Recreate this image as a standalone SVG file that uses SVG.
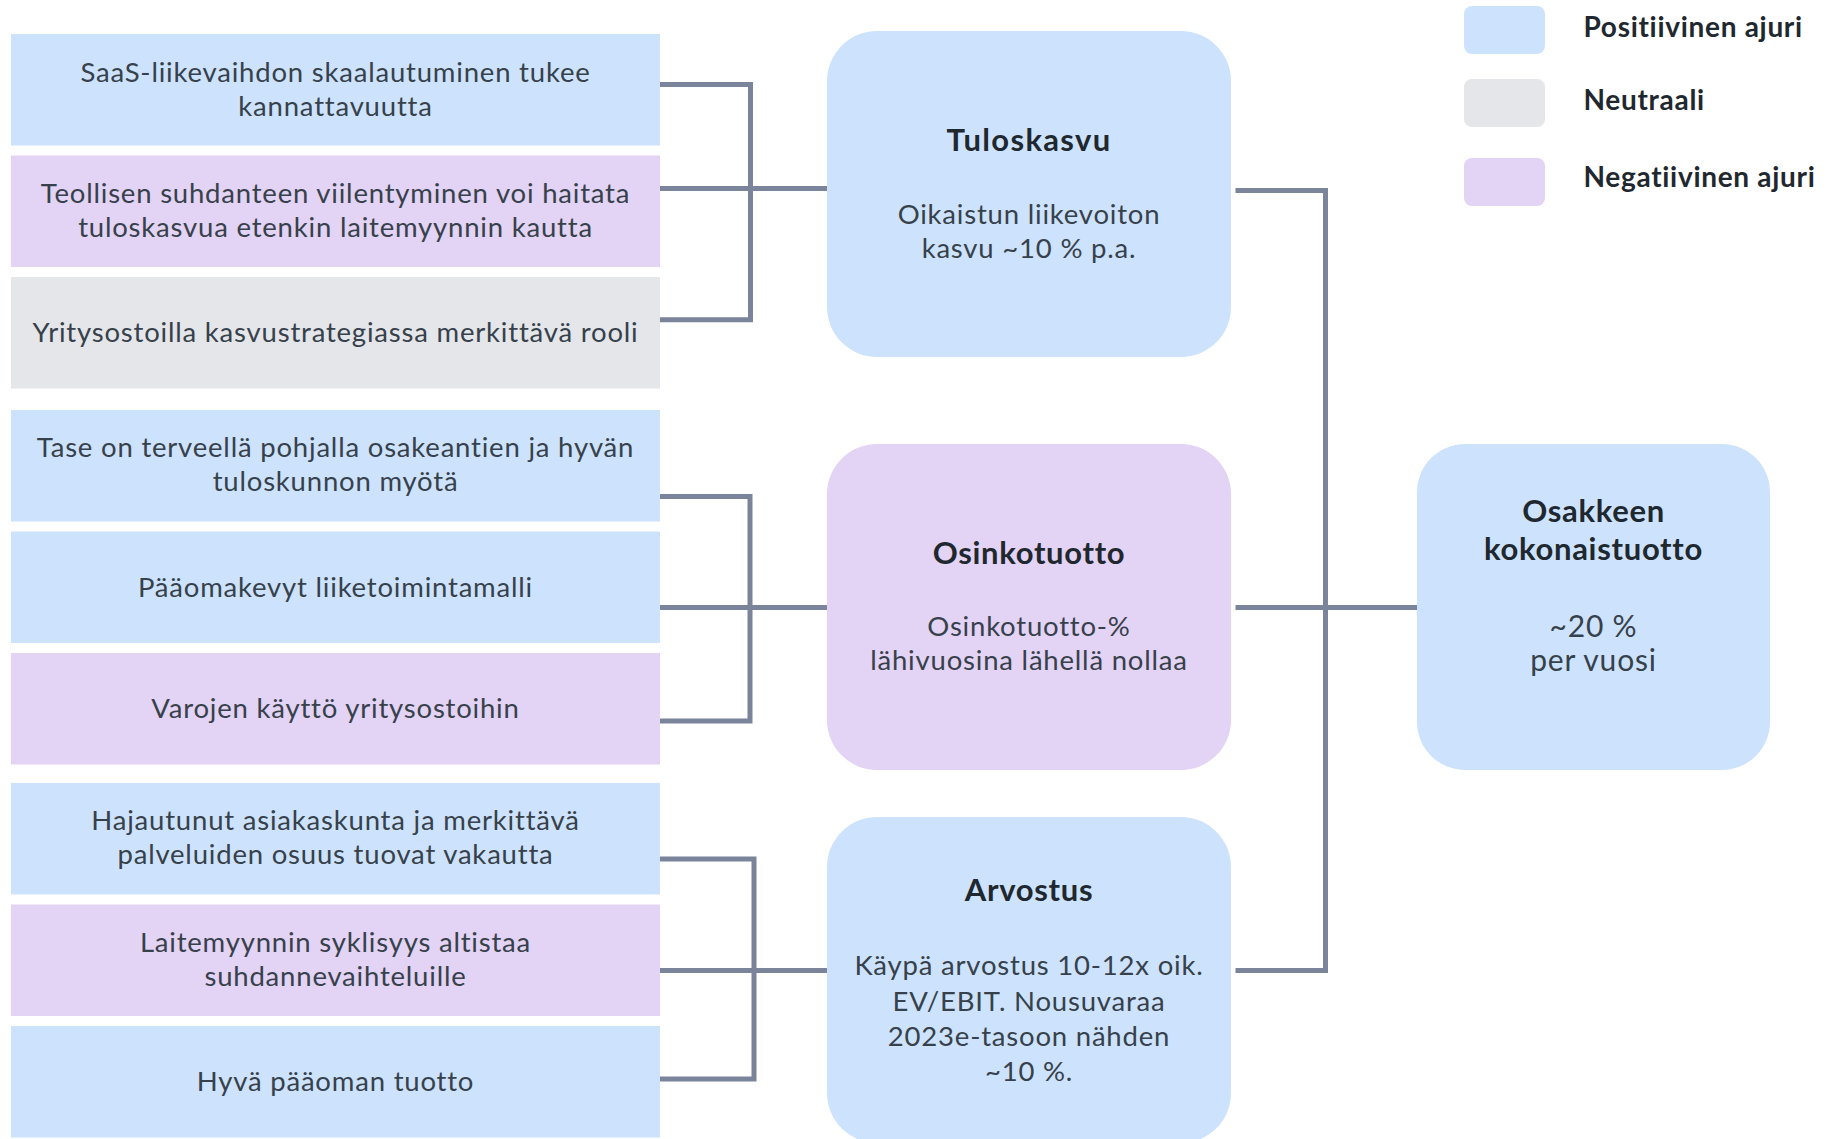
<svg xmlns="http://www.w3.org/2000/svg" width="1838" height="1139" viewBox="0 0 1838 1139">
  <style>
    .pos { fill: #cde3fd; }
    .neg { fill: #e3d3f4; }
    .neu { fill: #e4e6ea; }
    .t { font-family: Lato, "Open Sans", sans-serif; font-size: 27.5px; letter-spacing: 0.8px; fill: #37414b; text-anchor: middle; }
    .big { font-size: 30px; }
    .h { font-family: Lato, "Open Sans", sans-serif; font-size: 31px; letter-spacing: 0.7px; font-weight: 700; fill: #1f282f; text-anchor: middle; }
    .wide { letter-spacing: 1.3px; }
    .lg { font-family: Lato, "Open Sans", sans-serif; font-size: 28px; letter-spacing: 0.7px; font-weight: 700; fill: #1f282f; }
    .wire { fill: none; stroke: #7a849a; stroke-width: 5; stroke-linejoin: miter; stroke-linecap: square; }
  </style>
  <rect width="1838" height="1139" fill="#ffffff"/>

  <!-- connectors -->
  <g id="connectors">
    <path class="wire" d="M662,84.5 H750.5 V319.7 H662"/>
    <path class="wire" d="M662,188.5 H825"/>
    <path class="wire" d="M662,496.5 H750 V721 H662"/>
    <path class="wire" d="M662,607.5 H825"/>
    <path class="wire" d="M662,859 H754 V1079 H662"/>
    <path class="wire" d="M662,970.5 H825"/>
    <path class="wire" d="M1238,190.5 H1325.5 V970.5 H1238"/>
    <path class="wire" d="M1238,607.5 H1415"/>
  </g>

  <!-- drivers: earnings growth -->
  <g id="driver-saas">
    <rect class="pos" x="11" y="34" width="649" height="111.5"/>
    <text class="t" x="335.5" y="81.5">SaaS-liikevaihdon skaalautuminen tukee</text>
    <text class="t" x="335.5" y="115.5">kannattavuutta</text>
  </g>
  <g id="driver-suhdanne">
    <rect class="neg" x="11" y="155.5" width="649" height="111.5"/>
    <text class="t" x="335.5" y="203">Teollisen suhdanteen viilentyminen voi haitata</text>
    <text class="t" x="335.5" y="237">tuloskasvua etenkin laitemyynnin kautta</text>
  </g>
  <g id="driver-yritysostot">
    <rect class="neu" x="11" y="277" width="649" height="111.5"/>
    <text class="t" x="335.5" y="342">Yritysostoilla kasvustrategiassa merkittävä rooli</text>
  </g>

  <!-- drivers: dividend yield -->
  <g id="driver-tase">
    <rect class="pos" x="11" y="410" width="649" height="111.5"/>
    <text class="t" x="335.5" y="457">Tase on terveellä pohjalla osakeantien ja hyvän</text>
    <text class="t" x="335.5" y="490.5">tuloskunnon myötä</text>
  </g>
  <g id="driver-paaomakevyt">
    <rect class="pos" x="11" y="531.5" width="649" height="111.5"/>
    <text class="t" x="335.5" y="596.5">Pääomakevyt liiketoimintamalli</text>
  </g>
  <g id="driver-varat">
    <rect class="neg" x="11" y="653" width="649" height="111.5"/>
    <text class="t" x="335.5" y="718">Varojen käyttö yritysostoihin</text>
  </g>

  <!-- drivers: valuation -->
  <g id="driver-asiakaskunta">
    <rect class="pos" x="11" y="783" width="649" height="111.5"/>
    <text class="t" x="335.5" y="830">Hajautunut asiakaskunta ja merkittävä</text>
    <text class="t" x="335.5" y="864">palveluiden osuus tuovat vakautta</text>
  </g>
  <g id="driver-laitemyynti">
    <rect class="neg" x="11" y="904.5" width="649" height="111.5"/>
    <text class="t" x="335.5" y="951.5">Laitemyynnin syklisyys altistaa</text>
    <text class="t" x="335.5" y="985.5">suhdannevaihteluille</text>
  </g>
  <g id="driver-paaoman-tuotto">
    <rect class="pos" x="11" y="1026" width="649" height="111.5"/>
    <text class="t" x="335.5" y="1091">Hyvä pääoman tuotto</text>
  </g>

  <!-- return components -->
  <g id="tuloskasvu">
    <rect class="pos" x="827" y="31" width="404" height="326" rx="50" ry="50"/>
    <text class="h wide" x="1029" y="150.5">Tuloskasvu</text>
    <text class="t" x="1029" y="224">Oikaistun liikevoiton</text>
    <text class="t" x="1029" y="258">kasvu ~10 % p.a.</text>
  </g>
  <g id="osinkotuotto">
    <rect class="neg" x="827" y="444" width="404" height="326" rx="50" ry="50"/>
    <text class="h" x="1029" y="564">Osinkotuotto</text>
    <text class="t" x="1029" y="636">Osinkotuotto-%</text>
    <text class="t" x="1029" y="670">lähivuosina lähellä nollaa</text>
  </g>
  <g id="arvostus">
    <rect class="pos" x="827" y="817" width="404" height="326" rx="50" ry="50"/>
    <text class="h" x="1029" y="900.5">Arvostus</text>
    <text class="t" x="1029" y="975">Käypä arvostus 10-12x oik.</text>
    <text class="t" x="1029" y="1010.5">EV/EBIT. Nousuvaraa</text>
    <text class="t" x="1029" y="1046">2023e-tasoon nähden</text>
    <text class="t" x="1029" y="1080.5">~10 %.</text>
  </g>

  <!-- total shareholder return -->
  <g id="kokonaistuotto">
    <rect class="pos" x="1417" y="444" width="353" height="326" rx="48" ry="48"/>
    <text class="h" x="1593.5" y="521.5">Osakkeen</text>
    <text class="h" x="1593.5" y="559.5">kokonaistuotto</text>
    <text class="t big" x="1593.5" y="637">~20 %</text>
    <text class="t big" x="1593.5" y="671">per vuosi</text>
  </g>

  <!-- legend -->
  <g id="legend">
    <rect class="pos" x="1464" y="6" width="81" height="48" rx="8" ry="8"/>
    <text class="lg" x="1583.5" y="37">Positiivinen ajuri</text>
    <rect class="neu" x="1464" y="79" width="81" height="48" rx="8" ry="8"/>
    <text class="lg" x="1583.5" y="109.5">Neutraali</text>
    <rect class="neg" x="1464" y="158" width="81" height="48" rx="8" ry="8"/>
    <text class="lg" x="1583.5" y="186.5">Negatiivinen ajuri</text>
  </g>
</svg>
